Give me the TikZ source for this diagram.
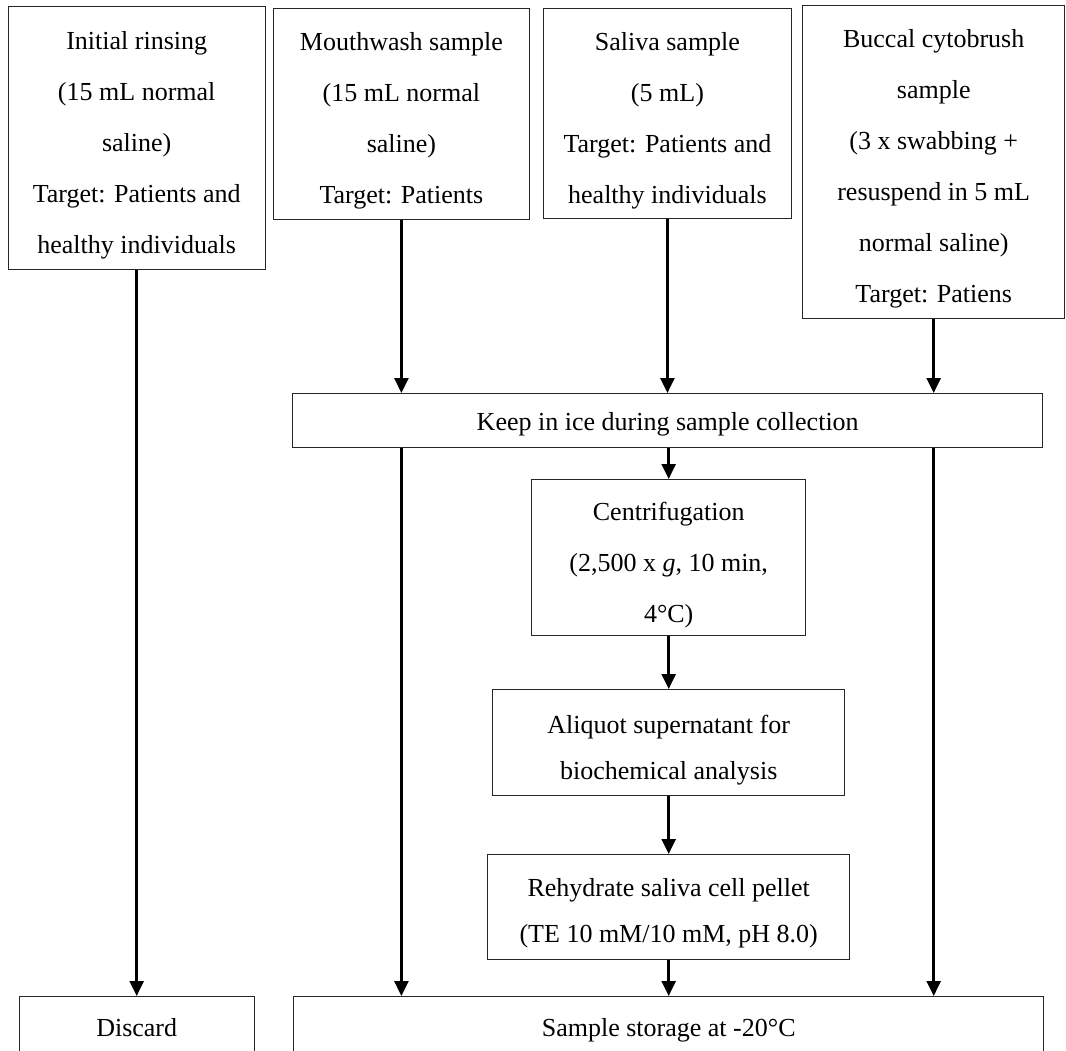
\documentclass[tikz,border=0pt]{standalone}
\usepackage{fontspec}
\setmainfont{Liberation Serif}
\usetikzlibrary{arrows.meta}
\begin{document}
\begin{tikzpicture}[x=1pt,y=-1pt,
  box/.style={draw=black!85, line width=1.4pt, anchor=north west, inner sep=0pt},
  toptext/.style={align=center, inner sep=0pt, yshift=-7pt, font=\fontsize{26}{51}\selectfont},
  lowtext/.style={align=center, inner sep=0pt, yshift=-6.5pt, font=\fontsize{26}{46}\selectfont},
  arr/.style={line width=2.6pt, -{Triangle[length=15pt,width=14pt]}}]
\useasboundingbox (0,0) rectangle (1066,1050);
\clip (0,0) rectangle (1066,1050);
\node[box, minimum width=257, minimum height=263,
  label={[toptext]center:{Initial rinsing\\(15 mL normal\\saline)\\Target: Patients and\\healthy individuals}}] (init) at (7.5,6) {};
\node[box, minimum width=256, minimum height=211,
  label={[toptext]center:{Mouthwash sample\\(15 mL normal\\saline)\\Target: Patients}}] (mouth) at (272.7,7.6) {};
\node[box, minimum width=247.5, minimum height=210.5,
  label={[toptext]center:{Saliva sample\\(5 mL)\\Target: Patients and\\healthy individuals}}] (saliva) at (543,7.5) {};
\node[box, minimum width=262, minimum height=313,
  label={[toptext]center:{Buccal cytobrush\\sample\\(3 x swabbing +\\resuspend in 5 mL\\normal saline)\\Target: Patiens}}] (buccal) at (802,5) {};
\node[box, minimum width=750, minimum height=54,
  label={[lowtext, yshift=3pt]center:{Keep in ice during sample collection}}] (keep) at (292,393) {};
\node[box, minimum width=274, minimum height=156,
  label={[toptext]center:{Centrifugation\\(2,500 x \textit{g}, 10 min,\\4°C)}}] (centrif) at (531,479) {};
\node[box, minimum width=352, minimum height=106,
  label={[lowtext, yshift=-1pt]center:{Aliquot supernatant for\\biochemical analysis}}] (aliquot) at (492,689) {};
\node[box, minimum width=362, minimum height=105,
  label={[lowtext]center:{Rehydrate saliva cell pellet\\(TE 10 mM/10 mM, pH 8.0)}}] (rehyd) at (487,854) {};
\node[box, minimum width=235, minimum height=62,
  label={[lowtext, yshift=6.5pt]center:{Discard}}] (discard) at (18.5,996) {};
\node[box, minimum width=750, minimum height=62,
  label={[lowtext, yshift=3.5pt]center:{Sample storage at -20°C}}] (storage) at (293,996) {};
\draw[arr] (init.south) -- (discard.north);
\draw[arr] (mouth.south) -- (mouth.south |- keep.north);
\draw[arr] (saliva.south) -- (saliva.south |- keep.north);
\draw[arr] (buccal.south) -- (buccal.south |- keep.north);
\draw[arr] (keep.south -| centrif.north) -- (centrif.north);
\draw[arr] (centrif.south) -- (aliquot.north);
\draw[arr] (aliquot.south) -- (rehyd.north);
\draw[arr] (rehyd.south) -- (storage.north);
\draw[arr] (keep.south -| mouth.south) -- (storage.north -| mouth.south);
\draw[arr] (keep.south -| buccal.south) -- (storage.north -| buccal.south);
\end{tikzpicture}
\end{document}
